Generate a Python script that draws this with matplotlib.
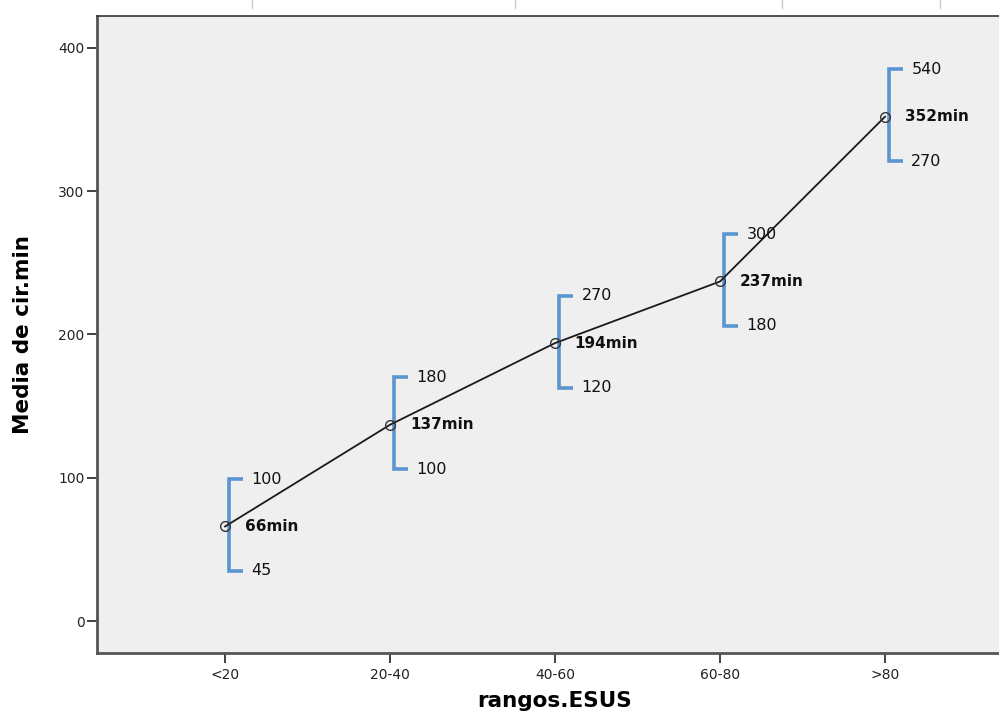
import matplotlib
matplotlib.use("Agg")
import matplotlib.pyplot as plt
from matplotlib.lines import Line2D
import numpy as np

categories = ["<20", "20-40", "40-60", "60-80", ">80"]
means = [66, 137, 194, 237, 352]
upper_labels = [100, 180, 270, 300, 540]
lower_labels = [45, 100, 120, 180, 270]
yticks = [0, 100, 200, 300, 400]

BR_UP = 33      # bracket extent above mean (style)
BR_DN = 31      # bracket extent below mean (style)
BR_DX = 0.025   # bracket offset right of the point
BR_TIP = 0.085  # bracket tip length

fig = plt.figure(figsize=(9.99, 7.14), dpi=100)
ax = fig.add_axes([97/999, 1-653/714, (1013-97)/999, (653-16)/714])
ax.set_facecolor("#efefef")

x = np.arange(len(categories))
ax.plot(x, means, color="#1a1a1a", lw=1.3, zorder=3)
ax.plot(x, means, ls="none", marker="o", ms=7, mfc="none", mec="#333333", mew=1.0, zorder=4)

blue = "#5b95d0"
for xi, m, up, lo in zip(x, means, upper_labels, lower_labels):
    bx = xi + BR_DX
    top, bot = m + BR_UP, m - BR_DN
    ax.plot([bx + BR_TIP, bx, bx, bx + BR_TIP], [top, top, bot, bot],
            color=blue, lw=2.6, solid_joinstyle="miter", solid_capstyle="butt", zorder=2)
    ax.text(bx + BR_TIP + 0.05, top, str(up), fontsize=11.5, va="center", ha="left",
            color="#111111", family="DejaVu Sans")
    ax.text(bx + BR_TIP + 0.05, bot, str(lo), fontsize=11.5, va="center", ha="left",
            color="#111111", family="DejaVu Sans")
    ax.text(xi + 0.12, m, f"{m}min", fontsize=11, fontweight="bold", va="center",
            ha="left", color="#111111", family="DejaVu Sans")

ax.set_xlim(-0.776, 4.776)
ax.set_ylim(-22.3, 422.3)
ax.set_xticks(x)
ax.set_xticklabels(categories)
ax.set_yticks(yticks)
ax.tick_params(axis="both", direction="out", length=7, width=1.3, color="#333333",
               labelsize=10, labelcolor="#222222")
ax.tick_params(axis="x", pad=4)
ax.tick_params(axis="y", pad=2)

for s in ["left", "bottom"]:
    ax.spines[s].set_linewidth(2.0)
    ax.spines[s].set_color("#555555")
ax.spines["top"].set_linewidth(1.2)
ax.spines["top"].set_color("#333333")
ax.spines["right"].set_visible(False)

ax.set_ylabel("Media de cir.min", fontsize=15.5, fontweight="bold", labelpad=18)
ax.set_xlabel("rangos.ESUS", fontsize=15.5, fontweight="bold", labelpad=6)

for px in [252, 515, 782, 940]:
    fig.add_artist(Line2D([px/999, px/999], [1.0, 1 - 8/714], color="#c8c8c8", lw=1.0))

fig.savefig("out.png", dpi=100)
